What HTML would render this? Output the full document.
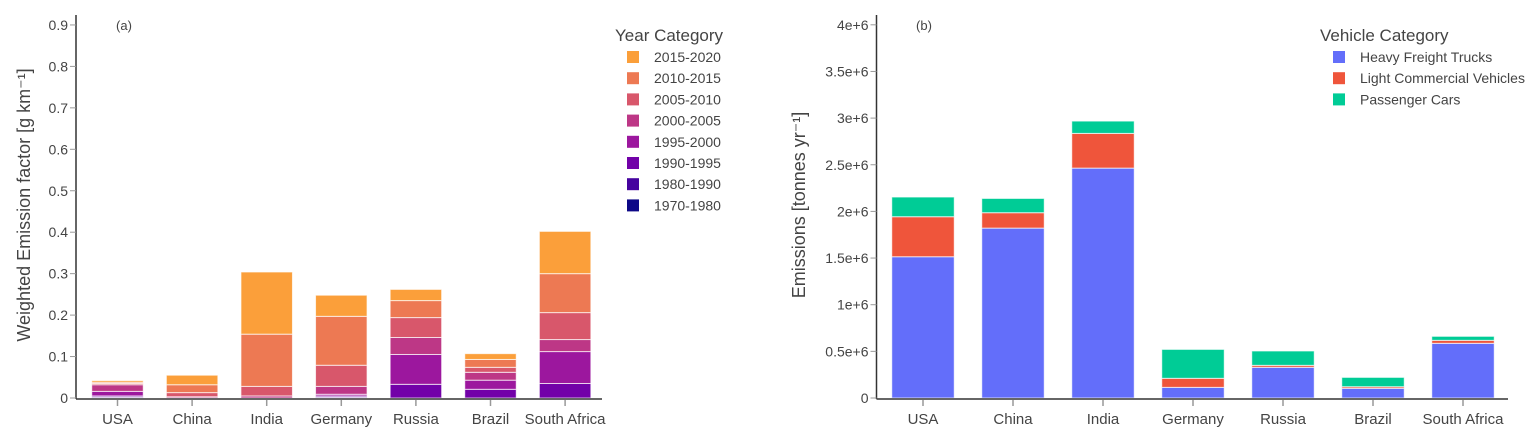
<!DOCTYPE html>
<html><head><meta charset="utf-8"><style>
body{margin:0;background:#fff;font-family:"Liberation Sans",Arial,sans-serif;}
svg text{font-family:"Liberation Sans",Arial,sans-serif;fill:#444;}
</style></head><body>
<svg id="chart" width="1539" height="442" viewBox="0 0 1539 442" xmlns="http://www.w3.org/2000/svg"></svg>
<script>
const countries = ["USA","China","India","Germany","Russia","Brazil","South Africa"];
const yearCats = ["1970-1980","1980-1990","1990-1995","1995-2000","2000-2005","2005-2010","2010-2015","2015-2020"];
const yearColors = ["#0d0887","#46039f","#7201a8","#9c179e","#bd3786","#d8576b","#ed7953","#fb9f3a"];
const ef1970 = [0,0,0,0,0,0,0];
const ef1980 = [0.002,0,0,0.002,0,0,0];
const ef1990 = [0.003,0,0,0.003,0.033,0.021,0.035];
const ef1995 = [0.011,0,0,0.004,0.072,0.022,0.077];
const ef2000 = [0.016,0.003,0.005,0.019,0.041,0.019,0.029];
const ef2005 = [0.003,0.010,0.023,0.051,0.048,0.012,0.065];
const ef2010 = [0.003,0.019,0.126,0.118,0.041,0.019,0.094];
const ef2015 = [0.004,0.023,0.150,0.051,0.027,0.014,0.102];
const leftTicks = [0,0.1,0.2,0.3,0.4,0.5,0.6,0.7,0.8,0.9];
const leftTickLabels = ["0","0.1","0.2","0.3","0.4","0.5","0.6","0.7","0.8","0.9"];

const vehCats = ["Heavy Freight Trucks","Light Commercial Vehicles","Passenger Cars"];
const vehColors = ["#636efa","#ef553b","#00cc96"];
const hft = [1.514e6,1.821e6,2.464e6,0.114e6,0.329e6,0.104e6,0.586e6];
const lcv = [0.429e6,0.165e6,0.372e6,0.097e6,0.021e6,0.017e6,0.032e6];
const pc  = [0.211e6,0.153e6,0.132e6,0.310e6,0.154e6,0.100e6,0.043e6];
const rightTicks = [0,0.5e6,1e6,1.5e6,2e6,2.5e6,3e6,3.5e6,4e6];
const rightTickLabels = ["0","0.5e+6","1e+6","1.5e+6","2e+6","2.5e+6","3e+6","3.5e+6","4e+6"];

const svg = document.getElementById('chart');
const NS = "http://www.w3.org/2000/svg";
function mk(tag, attrs, parent){const e=document.createElementNS(NS,tag);for(const k in attrs)e.setAttribute(k,attrs[k]);(parent||svg).appendChild(e);return e;}

function panel(opt){
  const g = mk('g',{});
  
  
  const y = v => opt.y0 - v/opt.unit*opt.unitPx;
  const xc = i => opt.xStart + i*opt.step;
  const series = opt.series;
  countries.forEach((c,i)=>{
    let acc = 0;
    series.forEach((s,k)=>{
      const v = s[i];
      if(v<=0){return;}
      const r = mk('rect',{x:xc(i)-opt.bw/2,y:y(acc+v),width:opt.bw,height:y(acc)-y(acc+v),fill:opt.colors[k],stroke:'rgba(255,255,255,0.7)','stroke-width':1},g);
      
      
      acc += v;
    });
  });
  const ax = mk('line',{x1:opt.axX,x2:opt.axX,y1:15,y2:opt.y0+1,stroke:'#333','stroke-width':1.5},g);
  
  
  const bx = mk('line',{x1:opt.axX,x2:opt.axEnd,y1:opt.y0+1,y2:opt.y0+1,stroke:'#333','stroke-width':1.5},g);
  
  
  opt.ticks.forEach((t,j)=>{
    mk('line',{x1:opt.axX-6,x2:opt.axX,y1:y(t),y2:y(t),stroke:'#999','stroke-width':1},g);
    const tx = mk('text',{x:opt.axX-8,y:y(t)+5,'text-anchor':'end','font-size':14},g);
    tx.textContent = opt.tickLabels[j];
    
    
  });
  countries.forEach((c,i)=>{
    mk('line',{x1:xc(i),x2:xc(i),y1:opt.y0+2,y2:opt.y0+8,stroke:'#999','stroke-width':1.5},g);
    const tx = mk('text',{x:xc(i),y:opt.y0+26,'text-anchor':'middle','font-size':15},g);
    tx.textContent = c;
    
    
  });
  const t = mk('text',{x:0,y:0,'text-anchor':'middle','font-size':18,transform:`translate(${opt.titleX},205) rotate(-90)`},g);
  t.textContent = opt.yTitle;
  
  
  const p = mk('text',{x:opt.labelX,y:30,'font-size':13,'text-anchor':'middle'},g);
  p.textContent = opt.panelLabel;
  
  
  const lt = mk('text',{x:opt.legTX,y:41,'font-size':17},g);
  lt.textContent = opt.legTitle;
  
  
  opt.legOrder.forEach((k,j)=>{
    const yy = 57 + j*21.2;
    const sq = mk('rect',{x:opt.legX,y:yy-6,width:12,height:12,fill:opt.colors[k]},g);
    
    
    const tx = mk('text',{x:opt.legX+27,y:yy+5,'font-size':14},g);
    tx.textContent = opt.cats[k];
    
    
  });
}

panel({name:'panel-a-emission-factor',y0:398,unit:0.1,unitPx:41.45,xStart:117.5,step:74.6,bw:51.5,axX:76,axEnd:602,
  series:[ef1970,ef1980,ef1990,ef1995,ef2000,ef2005,ef2010,ef2015],colors:yearColors,cats:yearCats,
  ticks:leftTicks,tickLabels:leftTickLabels,titleX:30,yTitle:'Weighted Emission factor [g km\u207B\u00B9]',
  labelX:124,panelLabel:'(a)',legX:627,legTX:615,legTitle:'Year Category',legOrder:[7,6,5,4,3,2,1,0]});
panel({name:'panel-b-emissions',y0:398,unit:1e6,unitPx:93.3,xStart:923,step:90,bw:62.5,axX:876.5,axEnd:1508,
  series:[hft,lcv,pc],colors:vehColors,cats:vehCats,
  ticks:rightTicks,tickLabels:rightTickLabels,titleX:805,yTitle:'Emissions [tonnes yr\u207B\u00B9]',
  labelX:924,panelLabel:'(b)',legX:1333,legTX:1320,legTitle:'Vehicle Category',legOrder:[0,1,2]});
</script>
</body></html>
